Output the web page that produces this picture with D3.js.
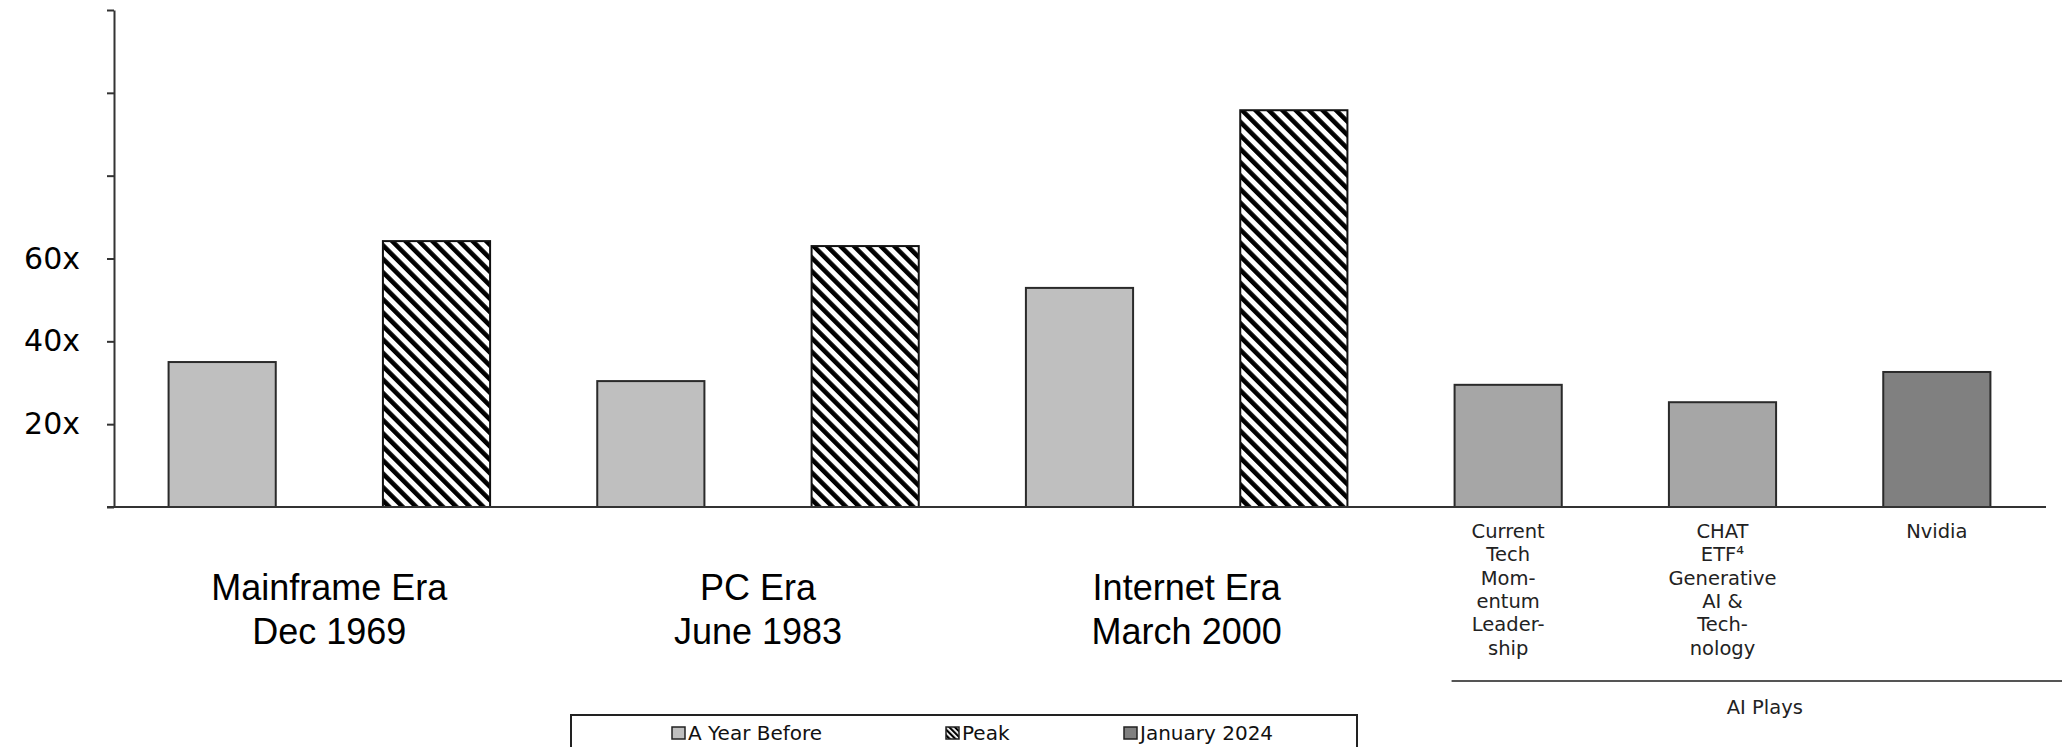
<!DOCTYPE html>
<html>
<head>
<meta charset="utf-8">
<script src="https://cdn.jsdelivr.net/npm/d3@7"></script>
<style>
  html, body { margin: 0; padding: 0; background: #ffffff; }
  svg { display: block; }
</style>
</head>
<body>
<svg id="chart" width="2062" height="747"></svg>
<script>
// ---------------- data ----------------
const eras = ["Mainframe Era", "PC Era", "Internet Era"];
const eraDates = ["Dec 1969", "June 1983", "March 2000"];
const yearBefore = [35.0, 30.4, 52.9];
const peak = [64.2, 63.0, 95.8];

const aiPlays = ["Current Tech Momentum Leadership", "CHAT ETF Generative AI & Technology", "Nvidia"];
const aiLabelLines = [
  ["Current", "Tech", "Mom-", "entum", "Leader-", "ship"],
  ["CHAT", "ETF\u2074", "Generative", "AI &", "Tech-", "nology"],
  ["Nvidia"]
];
const january2024 = [29.5, 25.3, 32.6];
const aiGroupLabel = "AI Plays";

const yTicks = [0, 20, 40, 60, 80, 100, 120];
const yTickLabels = ["", "20x", "40x", "60x", "", "", ""];

const legendLabels = ["A Year Before", "Peak", "January 2024"];

// ---------------- styles ----------------
const colYearBefore = "#bfbfbf";
const colAI = "#a6a6a6";
const colNvidia = "#808080";
const axisColor = "#333333";

// ---------------- build bar table ----------------
const bars = [];
eras.forEach((e, i) => {
  bars.push({ key: e + "|before", value: yearBefore[i], type: "before" });
  bars.push({ key: e + "|peak", value: peak[i], type: "peak" });
});
aiPlays.forEach((a, i) => {
  bars.push({ key: a, value: january2024[i], type: i === 2 ? "nvidia" : "ai", lines: aiLabelLines[i] });
});

const W = 2062, H = 747;
const svg = d3.select("#chart");

const x = d3.scaleBand()
  .domain(bars.map(d => d.key))
  .range([115, 2044])
  .paddingInner(0.5)
  .paddingOuter(0.25);

const y = d3.scaleLinear().domain([0, 120]).range([507, 10]);

// hatch pattern
const defs = svg.append("defs");
const pat = defs.append("pattern")
  .attr("id", "hatch")
  .attr("patternUnits", "userSpaceOnUse")
  .attr("width", 9.5).attr("height", 9.5)
  .attr("patternTransform", "rotate(-45)");
pat.append("rect").attr("width", 9.5).attr("height", 9.5).attr("fill", "#ffffff");
pat.append("rect").attr("width", 4.6).attr("height", 9.5).attr("fill", "#000000");

const pat2 = defs.append("pattern")
  .attr("id", "hatchSmall")
  .attr("patternUnits", "userSpaceOnUse")
  .attr("width", 4).attr("height", 4)
  .attr("patternTransform", "rotate(-45)");
pat2.append("rect").attr("width", 4).attr("height", 4).attr("fill", "#ffffff");
pat2.append("rect").attr("width", 2.2).attr("height", 4).attr("fill", "#000000");

function fillFor(t) {
  if (t === "before") return colYearBefore;
  if (t === "peak") return "url(#hatch)";
  if (t === "ai") return colAI;
  return colNvidia;
}

// bars
svg.append("g").selectAll("rect")
  .data(bars)
  .join("rect")
  .attr("x", d => x(d.key))
  .attr("y", d => y(d.value))
  .attr("width", x.bandwidth())
  .attr("height", d => y(0) - y(d.value))
  .attr("fill", d => fillFor(d.type))
  .attr("stroke", d => d.type === "peak" ? "#111" : "#2a2a2a")
  .attr("stroke-width", 2);

// y axis
const yAxis = d3.axisLeft(y)
  .tickValues(yTicks)
  .tickFormat((d, i) => yTickLabels[i])
  .tickSize(7)
  .tickSizeOuter(0)
  .tickPadding(27);

const gy = svg.append("g")
  .attr("transform", "translate(114,0)")
  .call(yAxis);
gy.select(".domain").attr("stroke", axisColor).attr("stroke-width", 2);
gy.selectAll(".tick line").attr("stroke", axisColor).attr("stroke-width", 2);
gy.selectAll(".tick text")
  .attr("fill", "#000")
  .style("font-family", "'DejaVu Sans', sans-serif")
  .style("font-size", "30px");

// baseline
svg.append("line")
  .attr("x1", 107).attr("x2", x.range()[1] + 2)
  .attr("y1", y(0)).attr("y2", y(0))
  .attr("stroke", axisColor).attr("stroke-width", 2);

// era labels (centered under each pair)
eras.forEach((e, i) => {
  const cx = (x(e + "|before") + x(e + "|peak") + x.bandwidth()) / 2;
  const t = svg.append("text")
    .attr("x", cx)
    .attr("text-anchor", "middle")
    .style("font-family", "'Liberation Sans', Arial, sans-serif")
    .style("font-size", "36px")
    .attr("fill", "#000");
  t.append("tspan").attr("x", cx).attr("y", y(0) + 93).text(e);
  t.append("tspan").attr("x", cx).attr("y", y(0) + 137).text(eraDates[i]);
});

// AI labels
bars.filter(d => d.lines).forEach(d => {
  const cx = x(d.key) + x.bandwidth() / 2;
  const t = svg.append("text")
    .attr("text-anchor", "middle")
    .style("font-family", "'DejaVu Sans', sans-serif")
    .style("font-size", "19.5px")
    .attr("fill", "#222");
  d.lines.forEach((ln, k) => {
    t.append("tspan").attr("x", cx).attr("y", y(0) + 31 + k * 23.3).text(ln);
  });
});

// AI group separator and label
const sepX1 = x(aiPlays[0]) - 3;
svg.append("line")
  .attr("x1", sepX1).attr("x2", W)
  .attr("y1", 681).attr("y2", 681)
  .attr("stroke", "#555").attr("stroke-width", 2);
svg.append("text")
  .attr("x", (sepX1 + W) / 2 + 8)
  .attr("y", 714)
  .attr("text-anchor", "middle")
  .style("font-family", "'DejaVu Sans', sans-serif")
  .style("font-size", "19.5px")
  .attr("fill", "#222")
  .text(aiGroupLabel);

// legend
const lg = svg.append("g");
lg.append("rect")
  .attr("x", 571).attr("y", 715)
  .attr("width", 786).attr("height", 80)
  .attr("fill", "none").attr("stroke", "#222").attr("stroke-width", 2);
const legendX = [672, 946, 1124];
const legendFills = [colYearBefore, "url(#hatchSmall)", colNvidia];
legendLabels.forEach((lab, i) => {
  lg.append("rect")
    .attr("x", legendX[i]).attr("y", 727)
    .attr("width", 13).attr("height", 12)
    .attr("fill", legendFills[i])
    .attr("stroke", "#222").attr("stroke-width", 1.5);
  lg.append("text")
    .attr("x", legendX[i] + 16).attr("y", 740)
    .style("font-family", "'DejaVu Sans', sans-serif")
    .style("font-size", "20px")
    .attr("fill", "#111")
    .text(lab);
});
</script>
</body>
</html>
